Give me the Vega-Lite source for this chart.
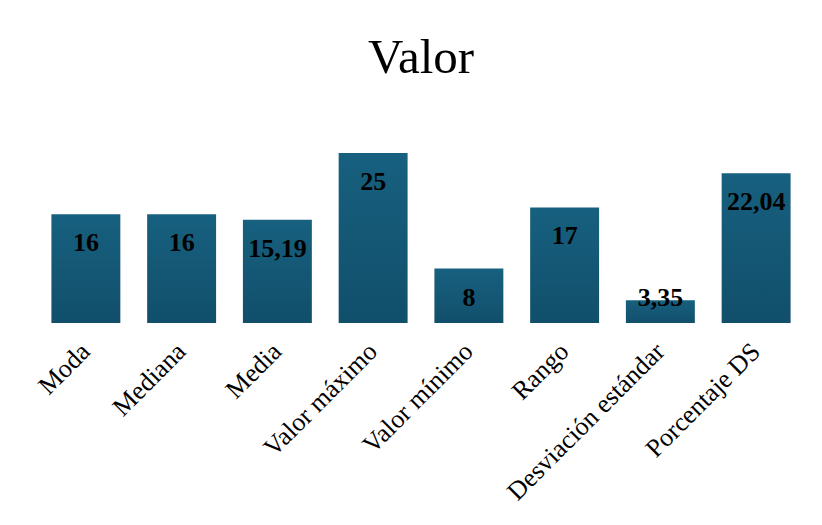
{
  "$schema": "https://vega.github.io/schema/vega-lite/v6.json",
  "width": 766,
  "height": 204,
  "autosize": {"type": "none"},
  "padding": {"left": 38, "top": 119, "right": 18, "bottom": 202},
  "background": "white",
  "title": {"text": "Valor", "font": "Liberation Serif", "fontSize": 49, "fontWeight": "normal", "color": "#000000", "anchor": "middle", "offset": 36, "frame": "group"},
  "data": {"values": [
    {"cat": "Moda", "valor": 16, "lab": "16"},
    {"cat": "Mediana", "valor": 16, "lab": "16"},
    {"cat": "Media", "valor": 15.19, "lab": "15,19"},
    {"cat": "Valor máximo", "valor": 25, "lab": "25"},
    {"cat": "Valor mínimo", "valor": 8, "lab": "8"},
    {"cat": "Rango", "valor": 17, "lab": "17"},
    {"cat": "Desviación estándar", "valor": 3.35, "lab": "3,35"},
    {"cat": "Porcentaje DS", "valor": 22.04, "lab": "22,04"}
  ]},
  "encoding": {
    "x": {"field": "cat", "type": "nominal", "sort": null,
      "scale": {"paddingInner": 0.28, "paddingOuter": 0.14},
      "axis": {"title": null, "labelAngle": -45, "labelAlign": "right", "labelBaseline": "middle", "labelFont": "Liberation Serif", "labelFontSize": 26, "labelColor": "#000000", "labelPadding": 24, "ticks": false, "domain": false, "labelLimit": 400}},
    "y": {"field": "valor", "type": "quantitative", "scale": {"domain": [0, 30]}, "axis": null}
  },
  "layer": [
    {"mark": {"type": "bar", "color": {"gradient": "linear", "x1": 0, "y1": 0, "x2": 0, "y2": 1, "stops": [{"offset": 0, "color": "#17607f"}, {"offset": 1, "color": "#114f6b"}]}}},
    {"transform": [{"filter": "datum.valor >= 5"}],
     "mark": {"type": "text", "font": "Liberation Serif", "fontSize": 26, "fontWeight": "bold", "color": "#000000", "baseline": "middle", "dy": 29},
     "encoding": {"text": {"field": "lab"}}},
    {"transform": [{"filter": "datum.valor < 5"}],
     "mark": {"type": "text", "font": "Liberation Serif", "fontSize": 26, "fontWeight": "bold", "color": "#000000", "baseline": "alphabetic", "dy": 6},
     "encoding": {"text": {"field": "lab"}}}
  ],
  "config": {"view": {"stroke": null}}
}
